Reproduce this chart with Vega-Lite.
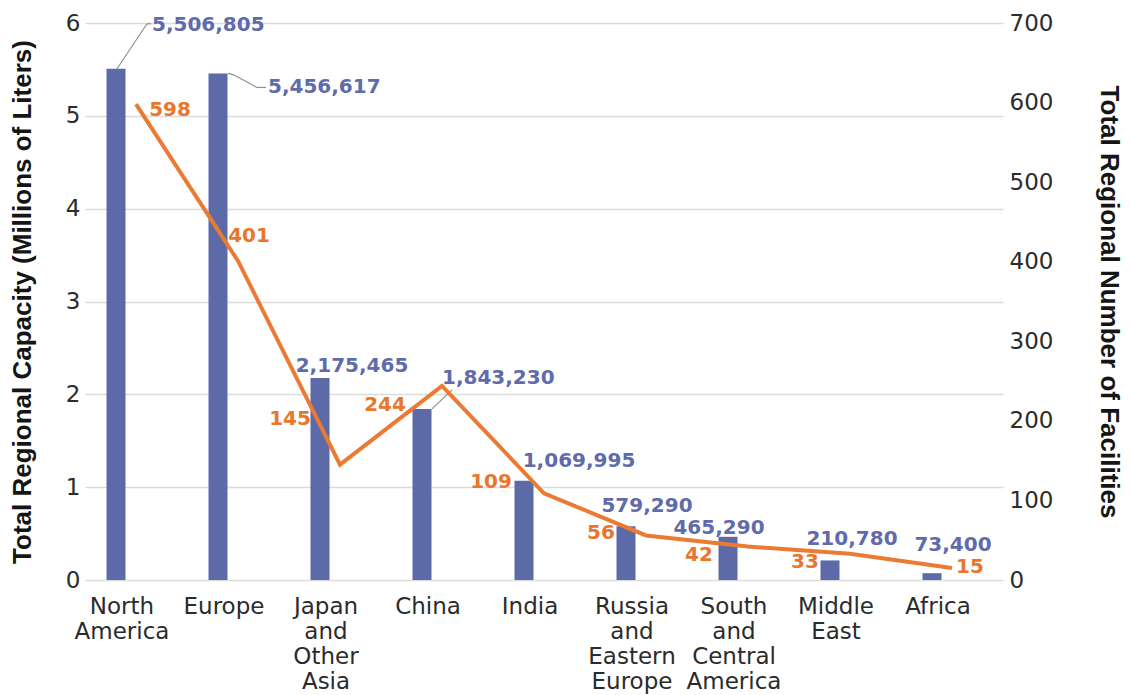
{
  "$schema": "https://vega.github.io/schema/vega-lite/v6.json",
  "autosize": {"type": "none"},
  "padding": {"left": 85, "top": 23, "right": 128, "bottom": 115},
  "width": 918,
  "height": 557,
  "background": "white",
  "config": {
    "view": {"stroke": null},
    "text": {"font": "DejaVu Sans", "fontWeight": "bold", "fontSize": 20, "baseline": "middle"}
  },
  "data": {
    "values": [
      {"region": "North America", "capacity": 5506805, "facilities": 598},
      {"region": "Europe", "capacity": 5456617, "facilities": 401},
      {"region": "Japan and Other Asia", "capacity": 2175465, "facilities": 145},
      {"region": "China", "capacity": 1843230, "facilities": 244},
      {"region": "India", "capacity": 1069995, "facilities": 109},
      {"region": "Russia and Eastern Europe", "capacity": 579290, "facilities": 56},
      {"region": "South and Central America", "capacity": 465290, "facilities": 42},
      {"region": "Middle East", "capacity": 210780, "facilities": 33},
      {"region": "Africa", "capacity": 73400, "facilities": 15}
    ]
  },
  "resolve": {"scale": {"y": "independent"}},
  "layer": [
    {
      "encoding": {
        "x": {"field": "region", "type": "nominal", "sort": null},
        "y": {"field": "capacity", "type": "quantitative"}
      },
      "layer": [
        {
          "mark": {"type": "bar", "width": 19, "xOffset": -20, "color": "#5C6BA8"},
          "encoding": {
            "x": {
              "field": "region", "type": "nominal", "sort": null,
              "scale": {"paddingInner": 0, "paddingOuter": 0},
              "axis": {
                "title": null, "orient": "bottom", "domain": false, "ticks": false,
                "labelAngle": 0, "labelExpr": "split(datum.label, ' ')",
                "labelFont": "DejaVu Sans", "labelFontSize": 23, "labelColor": "#2b2b2b",
                "labelLineHeight": 25, "labelPadding": 15, "labelOffset": -14,
                "labelBaseline": "top"
              }
            },
            "y": {
              "field": "capacity", "type": "quantitative",
              "scale": {"domain": [0, 6000000], "nice": false},
              "axis": {
                "orient": "left",
                "values": [0, 1000000, 2000000, 3000000, 4000000, 5000000, 6000000],
                "labelExpr": "format(datum.value / 1000000, 'd')",
                "grid": true, "gridColor": "#dcdcdc", "gridWidth": 1.3,
                "domain": false, "ticks": false, "labelPadding": 5,
                "labelFont": "DejaVu Sans", "labelFontSize": 23, "labelColor": "#2b2b2b",
                "title": "Total Regional Capacity (Millions of Liters)",
                "titleFont": "Liberation Sans", "titleFontWeight": "bold",
                "titleFontSize": 26, "titleColor": "#151515", "titlePadding": 30
              }
            }
          }
        },
        {"transform": [{"filter": "datum.region === 'North America'"}],
         "mark": {"type": "rule", "color": "#8f8f8f", "strokeWidth": 1.2, "xOffset": -19, "yOffset": 0, "x2Offset": 11, "y2Offset": -45},
         "encoding": {"x2": {"field": "region"}, "y2": {"field": "capacity"}}},
        {"transform": [{"filter": "datum.region === 'North America'"}],
         "mark": {"type": "rule", "color": "#8f8f8f", "strokeWidth": 1.2, "xOffset": 11, "yOffset": -45, "x2Offset": 15, "y2Offset": -45},
         "encoding": {"x2": {"field": "region"}, "y2": {"field": "capacity"}}},
        {"transform": [{"filter": "datum.region === 'Europe'"}],
         "mark": {"type": "rule", "color": "#8f8f8f", "strokeWidth": 1.2, "xOffset": -10, "yOffset": 0, "x2Offset": -4, "y2Offset": 1.5},
         "encoding": {"x2": {"field": "region"}, "y2": {"field": "capacity"}}},
        {"transform": [{"filter": "datum.region === 'Europe'"}],
         "mark": {"type": "rule", "color": "#8f8f8f", "strokeWidth": 1.2, "xOffset": -4, "yOffset": 1.5, "x2Offset": 19, "y2Offset": 14},
         "encoding": {"x2": {"field": "region"}, "y2": {"field": "capacity"}}},
        {"transform": [{"filter": "datum.region === 'Europe'"}],
         "mark": {"type": "rule", "color": "#8f8f8f", "strokeWidth": 1.2, "xOffset": 19, "yOffset": 14, "x2Offset": 28, "y2Offset": 14},
         "encoding": {"x2": {"field": "region"}, "y2": {"field": "capacity"}}},
        {"transform": [{"filter": "datum.region === 'China'"}],
         "mark": {"type": "rule", "color": "#8f8f8f", "strokeWidth": 1.2, "xOffset": -10, "yOffset": 0, "x2Offset": 10, "y2Offset": -19},
         "encoding": {"x2": {"field": "region"}, "y2": {"field": "capacity"}}},
        {"transform": [{"filter": "datum.region === 'North America'"}],
         "mark": {"type": "text", "color": "#5F6BAA", "align": "left", "dx": 16, "dy": -44},
         "encoding": {"text": {"field": "capacity", "format": ","}}},
        {"transform": [{"filter": "datum.region === 'Europe'"}],
         "mark": {"type": "text", "color": "#5F6BAA", "align": "left", "dx": 30, "dy": 14},
         "encoding": {"text": {"field": "capacity", "format": ","}}},
        {"transform": [{"filter": "datum.region === 'Japan and Other Asia'"}],
         "mark": {"type": "text", "color": "#5F6BAA", "align": "center", "dx": 12, "dy": -12},
         "encoding": {"text": {"field": "capacity", "format": ","}}},
        {"transform": [{"filter": "datum.region === 'China'"}],
         "mark": {"type": "text", "color": "#5F6BAA", "align": "left", "dx": 0, "dy": -31},
         "encoding": {"text": {"field": "capacity", "format": ","}}},
        {"transform": [{"filter": "datum.region === 'India'"}],
         "mark": {"type": "text", "color": "#5F6BAA", "align": "center", "dx": 35, "dy": -20},
         "encoding": {"text": {"field": "capacity", "format": ","}}},
        {"transform": [{"filter": "datum.region === 'Russia and Eastern Europe'"}],
         "mark": {"type": "text", "color": "#5F6BAA", "align": "center", "dx": 1, "dy": -20},
         "encoding": {"text": {"field": "capacity", "format": ","}}},
        {"transform": [{"filter": "datum.region === 'South and Central America'"}],
         "mark": {"type": "text", "color": "#5F6BAA", "align": "center", "dx": -29, "dy": -9},
         "encoding": {"text": {"field": "capacity", "format": ","}}},
        {"transform": [{"filter": "datum.region === 'Middle East'"}],
         "mark": {"type": "text", "color": "#5F6BAA", "align": "center", "dx": 2, "dy": -21},
         "encoding": {"text": {"field": "capacity", "format": ","}}},
        {"transform": [{"filter": "datum.region === 'Africa'"}],
         "mark": {"type": "text", "color": "#5F6BAA", "align": "center", "dx": 1, "dy": -28},
         "encoding": {"text": {"field": "capacity", "format": ","}}}
      ]
    },
    {
      "encoding": {
        "x": {"field": "region", "type": "nominal", "sort": null},
        "y": {"field": "facilities", "type": "quantitative"}
      },
      "layer": [
        {
          "mark": {"type": "line", "color": "#EB7A33", "strokeWidth": 4, "strokeJoin": "miter"},
          "encoding": {
            "y": {
              "field": "facilities", "type": "quantitative",
              "scale": {"domain": [0, 700], "nice": false},
              "axis": {
                "orient": "right",
                "values": [0, 100, 200, 300, 400, 500, 600, 700],
                "grid": false, "domain": false, "ticks": false, "labelPadding": 6,
                "labelFont": "DejaVu Sans", "labelFontSize": 23, "labelColor": "#2b2b2b",
                "title": "Total Regional Number of Facilities",
                "titleFont": "Liberation Sans", "titleFontWeight": "bold",
                "titleFontSize": 26, "titleColor": "#151515", "titlePadding": 43
              }
            }
          }
        },
        {"transform": [{"filter": "datum.region === 'North America'"}],
         "mark": {"type": "text", "color": "#E8772E", "dx": 34, "dy": 6},
         "encoding": {"text": {"field": "facilities"}}},
        {"transform": [{"filter": "datum.region === 'Europe'"}],
         "mark": {"type": "text", "color": "#E8772E", "dx": 11, "dy": -25},
         "encoding": {"text": {"field": "facilities"}}},
        {"transform": [{"filter": "datum.region === 'Japan and Other Asia'"}],
         "mark": {"type": "text", "color": "#E8772E", "dx": -50, "dy": -46},
         "encoding": {"text": {"field": "facilities"}}},
        {"transform": [{"filter": "datum.region === 'China'"}],
         "mark": {"type": "text", "color": "#E8772E", "dx": -57, "dy": 19},
         "encoding": {"text": {"field": "facilities"}}},
        {"transform": [{"filter": "datum.region === 'India'"}],
         "mark": {"type": "text", "color": "#E8772E", "dx": -53, "dy": -11},
         "encoding": {"text": {"field": "facilities"}}},
        {"transform": [{"filter": "datum.region === 'Russia and Eastern Europe'"}],
         "mark": {"type": "text", "color": "#E8772E", "dx": -45, "dy": -2},
         "encoding": {"text": {"field": "facilities"}}},
        {"transform": [{"filter": "datum.region === 'South and Central America'"}],
         "mark": {"type": "text", "color": "#E8772E", "dx": -49, "dy": 8},
         "encoding": {"text": {"field": "facilities"}}},
        {"transform": [{"filter": "datum.region === 'Middle East'"}],
         "mark": {"type": "text", "color": "#E8772E", "dx": -45, "dy": 8},
         "encoding": {"text": {"field": "facilities"}}},
        {"transform": [{"filter": "datum.region === 'Africa'"}],
         "mark": {"type": "text", "color": "#E8772E", "dx": 18, "dy": -1},
         "encoding": {"text": {"field": "facilities"}}}
      ]
    }
  ]
}
